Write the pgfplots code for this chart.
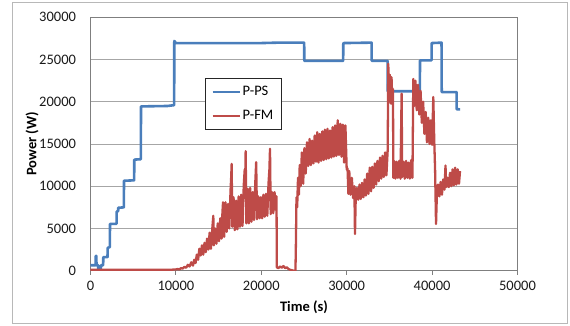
\documentclass[border=0pt]{standalone}
\usepackage{pgfplots}
\pgfplotsset{compat=1.18}
\usepackage{fontspec}
\setmainfont{Carlito}
\definecolor{psblue}{HTML}{4A7EBB}
\definecolor{fmred}{HTML}{BE4B48}
\definecolor{gridgray}{HTML}{A6A6A6}
\definecolor{boxgray}{HTML}{7F7F7F}
\begin{document}
\begin{tikzpicture}
\useasboundingbox (-90.5pt,-54.3pt) rectangle (479.5pt,270.7pt);
\draw[gridgray!80, line width=0.8pt] (-78.5pt,-52.3pt) rectangle (476.5pt,268.7pt);
\begin{axis}[
  scale only axis, width=427pt, height=253.4pt,
  xmin=0, xmax=50000, ymin=0, ymax=30000,
  xtick={0,10000,...,50000}, ytick={0,5000,...,30000},
  scaled ticks=false,
  /pgf/number format/fixed, /pgf/number format/1000 sep={}, /pgf/number format/assume math mode=true,
  font=\fontsize{14.5}{17}\selectfont,
  tick label style={font=\fontsize{14.5}{17}\selectfont, text=black!90},
  xticklabel style={yshift=-3pt},
  yticklabel style={xshift=-7pt},
  ymajorgrids, grid style={gridgray, line width=0.8pt},
  axis line style={boxgray, line width=0.9pt},
  tick align=outside, major tick length=4pt,
  xtick pos=bottom, ytick pos=left,
  xtick style={boxgray, line width=0.8pt}, ytick style={draw=none},
  xlabel={\bfseries Time (s)}, ylabel={\bfseries Power (W)},
  xlabel style={at={(axis description cs:0.5,-0.146)}, anchor=center},
  ylabel style={at={(axis description cs:-0.137,0.5)}, anchor=center},
  legend style={at={(0.268,0.760)}, anchor=north west, draw=black!85, line width=0.8pt,
    font=\fontsize{14.5}{17}\selectfont, row sep=9pt, inner xsep=6pt, inner ysep=6pt,
    legend cell align=left},
  legend image code/.code={\draw[#1, line width=2.4pt] (0pt,0pt) -- (27pt,0pt);},
]
\addplot[psblue, line width=2.6pt, line join=round] coordinates {
(0,650) (590,650) (609,1750) (690,1750) (700,650) (900,650) (913,100) (1215,100) (1230,650) (1480,650) (1500,1600) (1990,1600) (2014,2700) (2265,2800) (2283,5550) (3050,5550) (3068,7000) (3240,7050) (3255,7450) (3905,7500) (3923,10650) (5110,10700) (5129,13150) (5895,13200) (5914,19450) (9000,19500) (9795,19600) (9813,27200) (10000,26950) (20000,26950) (22000,27000) (25020,27000) (25036,24850) (29585,24850) (29603,26950) (32910,27000) (32929,24850) (34785,24850) (34803,21250) (38565,21250) (38585,24900) (39935,24900) (39955,26950) (41105,27000) (41126,21150) (42865,21150) (42883,19100) (43269,19100)
};
\addlegendentry{P-PS}
\addplot[fmred, line width=2.3pt, line join=round] table {
0 100
5000 100
9500 120
10000 150
10200 200
10400 150
10600 300
10800 250
11000 450
11200 350
11400 700
11600 500
11800 1000
12000 600
12150 1300
12300 900
12450 1900
12600 1300
12750 2600
12900 1800
13050 3000
13200 1900
13350 3300
13500 2200
13650 3800
13800 2500
13950 4500
14100 2600
14250 4800
14380 6500
14450 3000
14600 5000
14750 3200
14900 5600
15050 3500
15200 6200
15350 3800
15450 6900
15520 8100
15650 4000
15800 8100
15950 4600
16100 7900
16250 5000
16400 9500
16480 11200
16530 12650
16600 5200
16750 8700
16900 4800
17050 8300
17200 4900
17350 8800
17500 5200
17650 9000
17800 5300
17950 10200
18060 12000
18120 11000
18170 14150
18250 5600
18400 9700
18550 5600
18700 9800
18850 5800
19000 9300
19150 6000
19300 10500
19400 12850
19500 6100
19650 8800
19800 6200
19950 8700
20100 6200
20250 9000
20400 6400
20550 9100
20700 6500
20850 10400
20950 12000
21020 14430
21100 6700
21250 9300
21400 6800
21550 9300
21700 7200
21780 8800
21820 400
22000 300
22200 500
22400 350
22600 550
22800 300
23000 400
23200 200
23400 100
23800 0
24000 0
24050 3000
24120 8700
24200 7500
24300 11000
24400 9000
24500 12500
24600 10000
24750 14000
24900 10300
25050 14500
25200 11500
25350 15200
25500 12400
25650 15600
25800 12500
25950 15400
26100 12700
26250 16000
26400 12900
26550 16400
26700 12800
26850 16200
27000 13000
27150 16500
27300 13100
27450 16700
27600 13200
27750 16800
27900 13300
28050 16600
28200 13400
28350 17000
28500 13500
28650 17200
28800 13600
28950 17800
29100 13700
29250 17400
29400 13500
29550 17300
29700 12800
29850 17200
30000 12000
30100 12100
30200 9100
30300 11800
30450 9000
30600 11000
30750 8600
30900 10000
30970 4350
31050 8300
31200 9800
31350 8400
31500 10200
31650 8500
31800 10400
31950 8700
32100 10800
32250 8900
32400 11500
32550 9100
32700 12200
32850 9400
33000 12300
33150 9800
33300 12700
33450 10200
33600 13000
33750 10600
33900 13400
34050 10900
34200 13600
34350 11100
34500 14000
34650 11300
34800 14300
34870 24500
34950 20000
35050 23200
35150 19800
35250 22900
35350 19700
35420 21500
35460 11000
35550 13000
35700 10900
35850 12900
36000 11000
36150 13000
36300 10900
36430 20960
36500 11100
36650 12900
36800 10900
36950 13000
37100 11000
37250 12800
37400 10900
37550 13100
37700 11000
37800 22700
37900 19500
38050 22500
38200 19000
38350 22000
38500 18500
38650 21300
38800 17500
38950 20000
39100 16200
39250 18800
39400 15200
39550 18100
39700 15000
39850 17800
40000 14900
40140 20560
40250 15500
40350 12000
40460 5540
40550 8700
40700 10200
40850 8800
41000 10500
41150 9000
41300 10800
41450 9600
41570 12450
41650 9900
41800 11000
41950 9900
42100 11600
42250 10000
42400 12000
42550 10100
42700 12200
42850 10200
43000 12000
43150 10300
43270 11800
};
\addlegendentry{P-FM}
\end{axis}
\end{tikzpicture}
\end{document}
